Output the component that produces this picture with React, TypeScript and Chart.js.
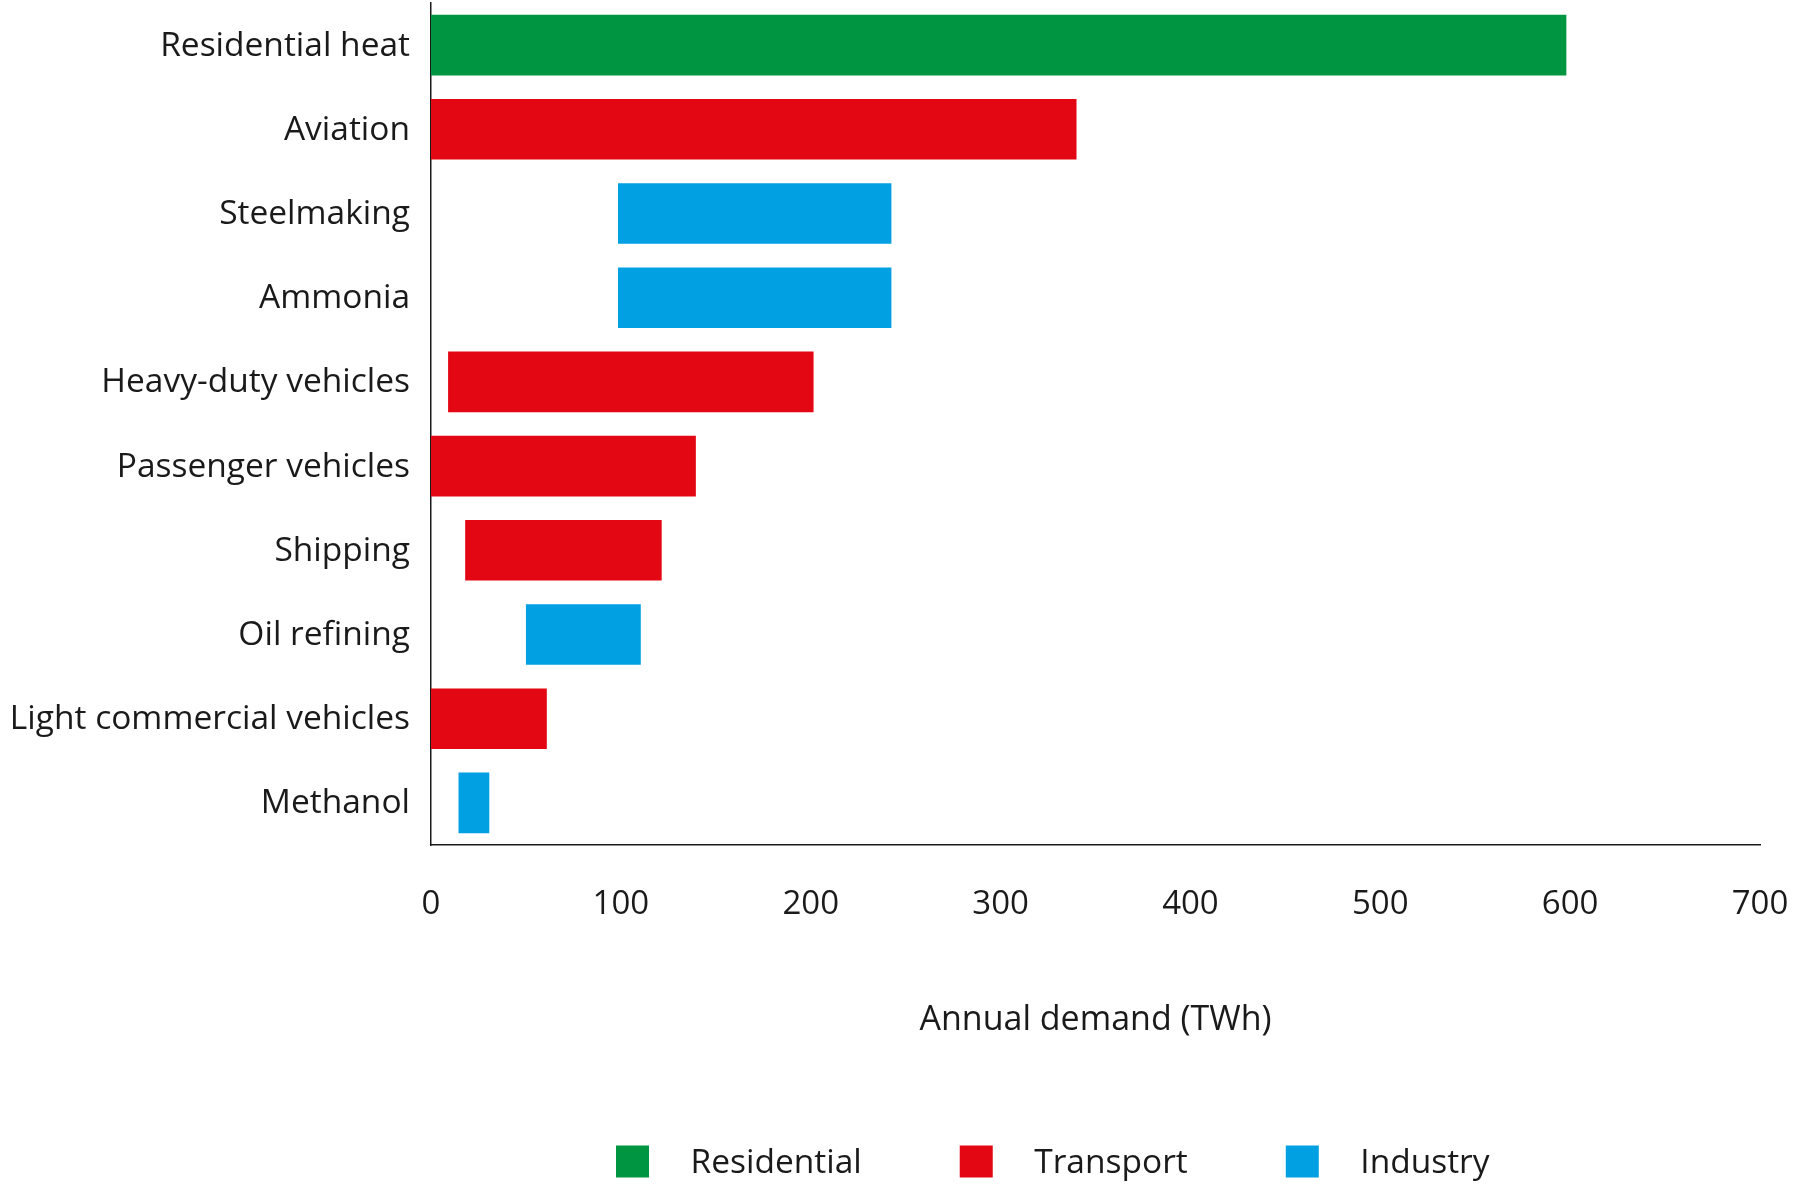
import React, { useEffect, useRef } from 'react';
import { Chart, registerables } from 'chart.js';

Chart.register(...registerables);

// ---- data ----
const categories = [
  'Residential heat',
  'Aviation',
  'Steelmaking',
  'Ammonia',
  'Heavy-duty vehicles',
  'Passenger vehicles',
  'Shipping',
  'Oil refining',
  'Light commercial vehicles',
  'Methanol',
];
const categorySector = [
  'Residential',
  'Transport',
  'Industry',
  'Industry',
  'Transport',
  'Transport',
  'Transport',
  'Industry',
  'Transport',
  'Industry',
];
const rangeStart = [0, 0, 98.5, 98.5, 9, 0, 18, 50, 0, 14.5];
const rangeEnd = [598, 340, 242.5, 242.5, 201.5, 139.5, 121.5, 110.5, 61, 30.7];
const sectors = ['Residential', 'Transport', 'Industry'];
const sectorColors = ['#009540', '#E30613', '#00A0E2'];
const xTickValues = [0, 100, 200, 300, 400, 500, 600, 700];
const xAxisTitle = 'Annual demand (TWh)';

// ---- styling constants ----
const W = 1796;
const H = 1184;
const FONT = "'Open Sans', 'Noto Sans', sans-serif";
const TITLE_FONT_SIZE = 34;
const LABEL_FONT_SIZE = 33.5;
const TICK_FONT_SIZE = 33;
const TEXT = '#1a1a1a';
const PLOT_BOTTOM = 845;

const sectorLegend = {
  id: 'sectorLegend',
  afterDraw(chart: any) {
    const ctx = chart.ctx as CanvasRenderingContext2D;
    ctx.save();
    ctx.font = `${LABEL_FONT_SIZE}px ${FONT}`;
    ctx.textBaseline = 'middle';
    ctx.textAlign = 'left';
    let x = 616;
    const cy = 1161.5;
    chart.data.datasets.forEach((ds: any) => {
      ctx.fillStyle = ds.backgroundColor;
      ctx.fillRect(x, cy - 16, 33, 32);
      ctx.fillStyle = TEXT;
      ctx.fillText(ds.label, x + 74.5, cy + 2);
      x += 74.5 + ctx.measureText(ds.label).width + 98;
    });
    ctx.restore();
  },
};

export default function App() {
  const canvasRef = useRef<HTMLCanvasElement | null>(null);

  useEffect(() => {
    const canvas = canvasRef.current;
    if (!canvas) return;

    const datasets = sectors.map((s, si) => ({
      label: s,
      data: categories.map((_, i) =>
        categorySector[i] === s ? [rangeStart[i], rangeEnd[i]] : null
      ),
      backgroundColor: sectorColors[si],
      borderWidth: 0,
      grouped: false,
      barPercentage: 0.72,
      categoryPercentage: 1,
    }));

    const chart = new Chart(canvas, {
      type: 'bar',
      data: { labels: categories, datasets: datasets as any },
      plugins: [sectorLegend],
      options: {
        indexAxis: 'y',
        responsive: false,
        animation: false,
        devicePixelRatio: 1,
        layout: { padding: { left: 0, top: 3, right: 36, bottom: 0 } },
        plugins: {
          legend: { display: false },
          tooltip: { enabled: false },
        },
        scales: {
          x: {
            type: 'linear',
            min: 0,
            max: 700,
            afterBuildTicks: (scale: any) => {
              scale.ticks = xTickValues.map((v) => ({ value: v }));
            },
            afterFit: (scale: any) => {
              scale.height = H - PLOT_BOTTOM;
              scale.paddingLeft = 0;
              scale.paddingRight = 0;
            },
            grid: { display: false, drawTicks: false },
            border: { display: true, color: '#1a1a1a', width: 1.5 },
            ticks: {
              padding: 40,
              color: TEXT,
              font: { family: FONT, size: TICK_FONT_SIZE },
              maxRotation: 0,
            },
            title: {
              display: true,
              text: xAxisTitle,
              color: TEXT,
              font: { family: FONT, size: TITLE_FONT_SIZE },
              padding: { top: 0, bottom: 143 },
            },
          },
          y: {
            type: 'category',
            afterFit: (scale: any) => {
              scale.width = 431;
              scale.paddingTop = 0;
              scale.paddingBottom = 0;
            },
            grid: { display: false, drawTicks: false },
            border: { display: true, color: '#1a1a1a', width: 1.5 },
            ticks: {
              padding: 21,
              labelOffset: 1,
              autoSkip: false,
              color: TEXT,
              font: { family: FONT, size: LABEL_FONT_SIZE },
            },
          },
        },
      } as any,
    });

    return () => chart.destroy();
  }, []);

  return (
    <div style={{ position: 'absolute', left: 0, top: 0, width: W, height: H, background: '#fff' }}>
      <canvas ref={canvasRef} width={W} height={H} style={{ display: 'block' }} />
    </div>
  );
}
